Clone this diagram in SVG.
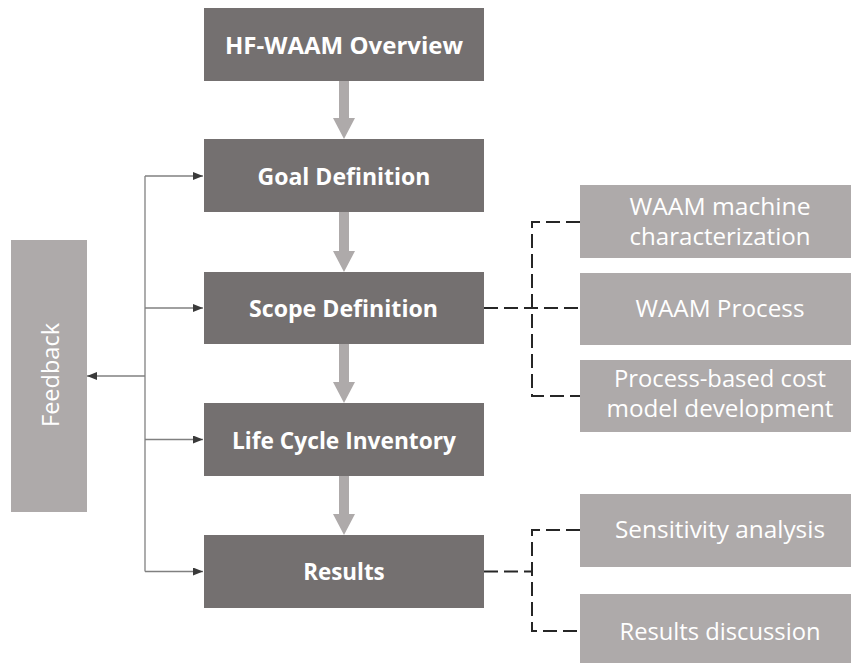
<svg xmlns="http://www.w3.org/2000/svg" width="851" height="663" viewBox="0 0 851 663">
<style>
.main{fill:#747070}
.light{fill:#AEAAAA}
.mt{font-family:"Open Sans","Liberation Sans",sans-serif;font-weight:bold;font-size:24px;fill:#FFFFFF;text-anchor:middle}
.lt{font-family:"Open Sans","Liberation Sans",sans-serif;font-size:24px;fill:#FFFFFF;text-anchor:middle}
.flow{fill:#AEAAAA}
.fb{fill:none;stroke:#808080;stroke-width:1.3}
.dash{fill:none;stroke:#262626;stroke-width:2;stroke-dasharray:14 6}
</style>
<defs>
<marker id="ah" viewBox="0 0 10 8" refX="10" refY="4" markerWidth="10" markerHeight="8" markerUnits="userSpaceOnUse" orient="auto">
<path d="M0,0 L10,4 L0,8 Z" fill="#3a3a3a"/>
</marker>
</defs>
<rect width="851" height="663" fill="#FFFFFF"/>
<g id="connectors">
<path class="flow" d="M339,81 H349 V118 H355 L344,139 L333,118 H339 Z"/>
<path class="flow" d="M339,212 H349 V251 H355 L344,272 L333,251 H339 Z"/>
<path class="flow" d="M339,344 H349 V382 H355 L344,403 L333,382 H339 Z"/>
<path class="flow" d="M339,476 H349 V514 H355 L344,535 L333,514 H339 Z"/>
<path class="fb" d="M145,176 V571.5"/>
<path class="fb" d="M145,176 H203" marker-end="url(#ah)"/>
<path class="fb" d="M145,308 H203" marker-end="url(#ah)"/>
<path class="fb" d="M145,439.5 H203" marker-end="url(#ah)"/>
<path class="fb" d="M145,571.5 H203" marker-end="url(#ah)"/>
<path class="fb" d="M145,376 H87" marker-end="url(#ah)"/>
<path class="dash" d="M484,308 H580"/>
<path class="dash" d="M580,222 H532 V396 H580"/>
<path class="dash" d="M484,571.5 H532"/>
<path class="dash" d="M580,530 H532 V631 H580"/>
</g>
<g id="overview"><rect class="main" x="204" y="8" width="280" height="73"/><text class="mt" x="344" y="53.5" textLength="238" lengthAdjust="spacingAndGlyphs">HF-WAAM Overview</text></g>
<g id="goal"><rect class="main" x="204" y="139" width="280" height="73"/><text class="mt" x="344" y="185" textLength="173" lengthAdjust="spacingAndGlyphs">Goal Definition</text></g>
<g id="scope"><rect class="main" x="204" y="272" width="280" height="72"/><text class="mt" x="343.5" y="317" textLength="189" lengthAdjust="spacingAndGlyphs">Scope Definition</text></g>
<g id="lci"><rect class="main" x="204" y="403" width="280" height="73"/><text class="mt" x="344" y="449" textLength="224" lengthAdjust="spacingAndGlyphs">Life Cycle Inventory</text></g>
<g id="results"><rect class="main" x="204" y="535" width="280" height="73"/><text class="mt" x="344" y="580" textLength="81.5" lengthAdjust="spacingAndGlyphs">Results</text></g>
<g id="feedback"><rect class="light" x="11" y="240" width="76" height="272"/><text class="lt" transform="translate(59,375) rotate(-90)" x="0" y="0" style="font-size:23px" textLength="104" lengthAdjust="spacingAndGlyphs">Feedback</text></g>
<g id="machine"><rect class="light" x="580" y="185" width="280" height="73"/><text class="lt" x="720" y="215" textLength="181" lengthAdjust="spacingAndGlyphs">WAAM machine</text><text class="lt" x="720" y="245" textLength="181" lengthAdjust="spacingAndGlyphs">characterization</text></g>
<g id="process"><rect class="light" x="580" y="273" width="280" height="72"/><text class="lt" x="720" y="317" textLength="169" lengthAdjust="spacingAndGlyphs">WAAM Process</text></g>
<g id="costmodel"><rect class="light" x="580" y="360" width="280" height="72"/><text class="lt" x="720" y="387" textLength="212" lengthAdjust="spacingAndGlyphs">Process-based cost</text><text class="lt" x="720" y="417" textLength="227" lengthAdjust="spacingAndGlyphs">model development</text></g>
<g id="sensitivity"><rect class="light" x="580" y="494" width="280" height="73"/><text class="lt" x="720" y="538" textLength="210" lengthAdjust="spacingAndGlyphs">Sensitivity analysis</text></g>
<g id="discussion"><rect class="light" x="580" y="594" width="280" height="80"/><text class="lt" x="720" y="640" textLength="201" lengthAdjust="spacingAndGlyphs">Results discussion</text></g>
</svg>
